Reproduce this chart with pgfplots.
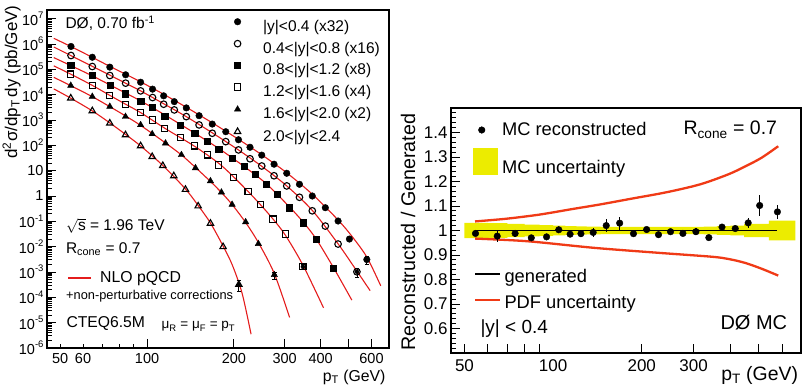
\documentclass[border=0pt]{standalone}
\usepackage{fontspec}
\setmainfont{Liberation Sans}
\usepackage{pgfplots}
\pgfplotsset{compat=1.18}

\definecolor{nlored}{RGB}{228,28,28}
\definecolor{pdfred}{RGB}{240,58,22}
\definecolor{mcyellow}{RGB}{236,236,0}

% ROOT-style powers of ten: sans digits with a raised exponent
\newcommand{\tp}[1]{10\raisebox{0.45em}{\fontsize{9.5}{10}\selectfont #1}}

\begin{document}
\begin{tikzpicture}[x=1pt,y=1pt]
\path[use as bounding box] (0,0) rectangle (802,390);

% ---------------- inclusive jet cross section ----------------
\begin{axis}[
  at={(47pt,42pt)}, anchor=south west, scale only axis,
  width=342pt, height=338pt,
  xmode=log, ymode=log,
  xmin=45, xmax=690, ymin=1e-6, ymax=2.2e7,
  axis line style={line width=1.2pt},
  every tick/.style={black, line width=0.9pt},
  tick align=inside, xtick pos=left, ytick pos=left,
  major tick length=9pt, minor tick length=4.5pt,
  xtick={100,200,300,400,500,600},
  xticklabels={100,200,300,400,,600},
  minor xtick={70,80,90},
  extra x ticks={50,60},
  extra x tick labels={50,60},
  extra x tick style={major tick length=4.5pt},
  ytickten={-6,-5,...,7},
  yticklabels={\tp{-6},\tp{-5},\tp{-4},\tp{-3},\tp{-2},\tp{-1},1,10,\tp{2},\tp{3},\tp{4},\tp{5},\tp{6},\tp{7}},
  /pgf/number format/assume math mode=true,
  ticklabel style={font=\fontsize{14.5}{16}\selectfont},
  xticklabel style={yshift=-1.5pt},
  legend style={at={(0.528,0.975)}, anchor=north west, draw=none, fill=none,
    inner sep=0pt, outer sep=0pt, row sep=5.6pt, column sep=0pt,
    font=\fontsize{15.5}{18}\selectfont,
    nodes={inner sep=0pt, text height=11.5pt, text depth=3.5pt}},
  legend cell align=left,
  legend image code/.code={\path[draw=none,fill=none] (0pt,0pt) rectangle (35.6pt,1pt);
    \draw[mark repeat=2,mark phase=2] plot coordinates {(0pt,5.5pt) (10pt,5.5pt) (20pt,5.5pt)};},
]
% NLO pQCD + non-perturbative corrections
\addplot[nlored, line width=1.1pt, smooth, forget plot] coordinates {
(47.5,1.68e6) (54.7,7.75e5) (64.6,2.98e5) (74.3,1.31e5) (84.5,6.35e4) (95,3.21e4)
(114.3,1.03e4) (137,3.15e3) (168.5,768) (207.8,171) (250.4,41.7) (305.5,8.11)
(374.8,1.15) (459.8,0.112) (514,0.0251) (578,3.88e-3) (646,2.85e-4)};
\addplot[nlored, line width=1.1pt, smooth, forget plot] coordinates {
(47.5,7.61e5) (54.4,3.51e5) (64.6,1.31e5) (74.3,5.90e4) (84.2,2.85e4) (95,1.41e4)
(114.1,4.41e3) (136.7,1.36e3) (168.1,315) (206.9,67.0) (249,15.3) (303.8,2.60)
(373,0.280) (458.7,0.0133) (533.8,1.09e-3) (593.4,1.84e-4)};
\addplot[nlored, line width=1.1pt, smooth, forget plot] coordinates {
(47.5,2.90e5) (54.4,1.41e5) (64.6,5.53e4) (74.3,2.44e4) (84.2,1.16e4) (95,5.69e3)
(115.2,1.59e3) (146.4,301) (177.2,75.4) (216.9,14.7) (258.5,3.12) (312,0.367)
(348.8,0.0897) (386,0.0200) (443,1.49e-3) (512.9,7.75e-5)};
\addplot[nlored, line width=1.1pt, smooth, forget plot] coordinates {
(47.5,1.37e5) (54.4,6.46e4) (64.6,2.33e4) (74.3,9.38e3) (84.2,4.21e3) (95,1.96e3)
(115.2,474) (146.4,90.5) (177.5,19.3) (199.7,5.64) (224,1.51) (247,0.461)
(273.4,0.123) (301.5,0.0287) (347.1,1.87e-3) (409.1,3.85e-5)};
\addplot[nlored, line width=1.1pt, smooth, forget plot] coordinates {
(47.5,4.83e4) (54.4,2.27e4) (64.6,8.34e3) (74.3,3.36e3) (84.2,1.45e3) (95,612)
(115.9,124) (131.6,41.7) (147.2,13.4) (165.9,3.74) (181.1,1.37) (197.2,0.461)
(219.7,0.0897) (243.2,0.0145) (276.2,8.65e-4) (312,1.61e-5)};
\addplot[nlored, line width=1.1pt, smooth, forget plot] coordinates {
(47.5,1.69e4) (54.4,7.27e3) (64.6,2.29e3) (74.3,768) (84.2,270) (95,94.7)
(113.4,16.1) (135.9,1.89) (150.4,0.421) (165.9,0.0857) (183.5,0.0106)
(197.6,1.87e-3) (213.5,1.47e-4) (229.4,3.51e-6)};

% statistical errors of the highest-pT points
\addplot[black, only marks, mark=none, forget plot,
  error bars/.cd, y dir=both, y explicit,
  error bar style={line width=0.8pt}, error mark options={rotate=90, mark size=2.2pt}]
coordinates {
(578,3.1e-3) +- (0,1.1e-3) (534,1.02e-3) +- (0,0.4e-3) (443,1.39e-3) +- (0,0.3e-3)
(347,1.6e-3) +- (0,0.35e-3) (276.2,7.7e-4) +- (0,2.5e-4) (208.1,3.2e-4) +- (0,1.5e-4)};

% measured cross sections
\addplot[black, only marks, mark=*, mark size=3.3pt] coordinates {
(54.5,8.0e5) (64.6,3.0e5) (74.3,1.22e5) (84.3,6.1e4) (95,3.1e4) (104.5,1.65e4)
(114.2,9.0e3) (124.3,5.3e3) (136.8,3.0e3) (151.5,1.48e3) (168.3,690) (187.5,345)
(207.5,166) (227.5,84) (249.8,41) (275.6,18) (305,7.9) (337.6,2.9) (374,1.0)
(415,0.345) (459.5,0.103) (503,0.020) (578,3.1e-3)};
\addlegendentry{|y|<0.4 (x32)}
\addplot[black, only marks, mark=o, mark size=3.3pt, mark options={line width=1.1pt}] coordinates {
(54.5,3.51e5) (64.6,1.29e5) (74.3,5.7e4) (84.3,2.85e4) (95,1.41e4) (104.5,7.7e3)
(114.2,4.2e3) (124.3,2.5e3) (136.8,1.36e3) (151.5,640) (168.3,300) (187.5,140)
(207.5,66) (227.5,29.5) (249.8,15.3) (275.6,6.3) (305,2.5) (337.6,0.89) (374,0.26)
(415,0.065) (459.5,0.0127) (534,1.02e-3)};
\addlegendentry{0.4<|y|<0.8 (x16)}
\addplot[black, only marks, mark=square*, mark size=3.1pt] coordinates {
(54.4,1.41e5) (64.6,5.7e4) (74.3,2.29e4) (84.2,1.10e4) (95,5.7e3) (104.2,3.1e3)
(115.2,1.45e3) (130.6,640) (146.3,300) (161.6,149) (177.2,72) (196.8,30)
(216.9,15) (237.4,7.4) (258.5,3.0) (282.2,1.2) (312,0.345) (348.8,0.088)
(386,0.020) (443,1.39e-3)};
\addlegendentry{0.8<|y|<1.2 (x8)}
\addplot[black, only marks, mark=square, mark size=3.1pt, mark options={line width=1.1pt}] coordinates {
(54.4,6.46e4) (64.6,2.29e4) (74.3,9.2e3) (84.2,4.2e3) (95,1.96e3) (104.2,1.0e3)
(115.2,474) (130.6,201) (146.3,95) (161.6,42) (177.2,16.8) (199.6,5.5)
(224,1.48) (247,0.47) (273.3,0.123) (301.5,0.0315) (347,1.6e-3)};
\addlegendentry{1.2<|y|<1.6 (x4)}
\addplot[black, only marks, mark=triangle*, mark size=3.7pt] coordinates {
(54.4,2.29e4) (64.6,8.4e3) (74.3,3.4e3) (84.2,1.36e3) (95,640) (104.2,282)
(115.9,121) (131.6,42) (147.2,12.8) (165.9,3.9) (181.1,1.4) (197.2,0.46)
(219.7,0.094) (243.2,0.013) (276.2,7.7e-4)};
\addlegendentry{1.6<|y|<2.0 (x2)}
\addplot[black, only marks, mark=triangle, mark size=3.7pt, mark options={line width=1.1pt}] coordinates {
(54.4,7.3e3) (64.6,2.29e3) (74.3,748) (84.2,258) (95,95) (104.2,35.7)
(113.4,15.8) (123.8,6.2) (135.9,1.8) (150.4,0.40) (165.9,0.083) (183.5,9.9e-3)
(208.1,3.2e-4)};
\addlegendentry{2.0<|y|<2.4}
\end{axis}

% ---------------- reconstructed / generated ----------------
\begin{axis}[
  at={(451pt,37pt)}, anchor=south west, scale only axis,
  width=350pt, height=245pt,
  xmode=log, xmin=45, xmax=695, ymin=0.5, ymax=1.5,
  axis line style={line width=1.2pt},
  every tick/.style={black, line width=0.9pt},
  tick align=inside, xtick pos=left, ytick pos=left,
  major tick length=9pt, minor tick length=5pt,
  xtick={50,60,70,80,90,200,300,400,500,600},
  xticklabels={50,,,,,200,300,,,},
  extra x ticks={100}, extra x tick labels={100},
  extra x tick style={major tick length=0pt},
  ytick={0.5,0.6,0.7,0.8,0.9,1,1.1,1.2,1.3,1.4,1.5},
  yticklabels={,0.6,0.7,0.8,0.9,1,1.1,1.2,1.3,1.4,},
  minor y tick num=4,
  /pgf/number format/assume math mode=true,
  ticklabel style={font=\fontsize{17}{19}\selectfont},
  xticklabel style={yshift=-3pt},
  legend style={at={(0.0629,0.9469)}, anchor=north west, draw=none, fill=none,
    inner sep=0pt, outer sep=0pt, row sep=9pt, column sep=4.7pt,
    font=\fontsize{18.3}{21}\selectfont,
    nodes={inner sep=0pt, text height=14pt, text depth=4pt}},
  legend cell align=left,
]
% MC statistical uncertainty, bin by bin
\addplot[fill=mcyellow, draw=none, forget plot] coordinates {
(50,1.031) (60,1.031) (60,1.030) (70,1.030) (70,1.027) (80,1.027) (80,1.024) (90,1.024)
(90,1.022) (100,1.022) (100,1.020) (110,1.020) (110,1.018) (120,1.018) (120,1.017)
(130,1.017) (130,1.016) (145,1.016) (145,1.015) (325,1.015) (325,1.016) (360,1.016)
(360,1.018) (400,1.018) (400,1.020) (445,1.020) (445,1.027) (540,1.027) (540,1.040)
(665,1.040) (665,0.960) (540,0.960) (540,0.973) (445,0.973) (445,0.980) (400,0.980)
(400,0.982) (360,0.982) (360,0.984) (325,0.984) (325,0.985) (145,0.985) (145,0.984)
(130,0.984) (130,0.983) (120,0.983) (120,0.982) (110,0.982) (110,0.980) (100,0.980)
(100,0.978) (90,0.978) (90,0.976) (80,0.976) (80,0.973) (70,0.973) (70,0.970)
(60,0.970) (60,0.969) (50,0.969)} -- cycle;
% generated level
\addplot[black, line width=1.1pt, forget plot] coordinates {(54.5,1) (578,1)};
% PDF uncertainty band edges
\addplot[pdfred, line width=2.3pt, smooth, forget plot] coordinates {
(54.3,1.037) (69.3,1.048) (90,1.065) (116.8,1.088) (143.9,1.106) (186.8,1.131)
(242.6,1.156) (315,1.188) (393.3,1.229) (450,1.262) (510.7,1.297) (581.6,1.344)};
\addplot[pdfred, line width=2.3pt, smooth, forget plot] coordinates {
(54.3,0.967) (82.1,0.956) (138.4,0.929) (233.3,0.908) (345.2,0.893) (393.2,0.884)
(448.2,0.868) (510.6,0.844) (581.6,0.816)};
% reconstructed MC
\addplot[black, only marks, mark=*, mark size=3.3pt,
  error bars/.cd, y dir=both, y explicit, error mark=none,
  error bar style={line width=1.3pt}] coordinates {
(54.5,0.988) +- (0,0.012) (64.6,0.977) +- (0,0.025) (74.3,0.988) +- (0,0.015)
(84.3,0.970) +- (0,0.012) (95,0.974) +- (0,0.010) (104.5,1.003) +- (0,0.010)
(114.2,0.985) +- (0,0.012) (124.3,0.987) +- (0,0.015) (136.8,0.992) +- (0,0.017)
(151.5,1.020) +- (0,0.028) (168.3,1.030) +- (0,0.026) (187.5,0.987) +- (0,0.010)
(207.8,1.004) +- (0,0.010) (228,0.983) +- (0,0.010) (250.5,0.995) +- (0,0.012)
(276,0.988) +- (0,0.012) (305.5,0.995) +- (0,0.015) (338,0.971) +- (0,0.010)
(374.7,1.014) +- (0,0.010) (415.5,1.008) +- (0,0.012) (459.8,1.031) +- (0,0.020)
(503,1.102) +- (0,0.042) (578,1.076) +- (0,0.029)};
\addlegendentry{MC reconstructed}
\addlegendimage{legend image code/.code={\fill[mcyellow] (0pt,-5.7pt) rectangle (24pt,20.3pt);}}
\addlegendentry{MC uncertainty}
\end{axis}

% ---------------- labels and annotations ----------------
\node[rotate=90, font=\fontsize{17}{20}\selectfont] at (11.5,308)
  {d\textsuperscript{2}σ/dp\textsubscript{T}\,dy (pb/GeV)};
\node[anchor=east, font=\fontsize{15.8}{18}\selectfont] at (389,13)
  {p\textsubscript{T} (GeV)};
\node[anchor=base west, font=\fontsize{15.5}{18}\selectfont] at (62,361.5)
  {DØ, 0.70 fb\textsuperscript{-1}};
\node[anchor=base west, font=\fontsize{15.5}{18}\selectfont] at (62.5,159.5)
  {$\sqrt{\mbox{s}}$ = 1.96 TeV};
\node[anchor=base west, font=\fontsize{15.5}{18}\selectfont] at (62.5,136.5)
  {R\textsubscript{cone} = 0.7};
\draw[nlored, line width=1.1pt] (68,112) -- (91,112);
\node[anchor=base west, font=\fontsize{15.8}{18}\selectfont] at (96.7,107.5) {NLO pQCD};
\node[anchor=base west, font=\fontsize{12.8}{15}\selectfont] at (62.7,90)
  {+non-perturbative corrections};
\node[anchor=base west, font=\fontsize{15.7}{18}\selectfont] at (63,62) {CTEQ6.5M};
\node[anchor=base west, font=\fontsize{13.5}{16}\selectfont] at (158,61)
  {μ\textsubscript{R} = μ\textsubscript{F} = p\textsubscript{T}};

\node[rotate=90, font=\fontsize{19.7}{22}\selectfont] at (408,158)
  {Reconstructed / Generated};
\node[anchor=east, font=\fontsize{19.4}{22}\selectfont] at (801.5,15)
  {p\textsubscript{T} (GeV)};
\node[anchor=base west, font=\fontsize{19.5}{22}\selectfont] at (680,255)
  {R\textsubscript{cone} = 0.7};
\draw[black, line width=1.1pt] (475,116) -- (500,116);
\node[anchor=base west, font=\fontsize{18.3}{21}\selectfont] at (501,107.3) {generated};
\draw[pdfred, line width=2.3pt] (475,90) -- (500,90);
\node[anchor=base west, font=\fontsize{18.3}{21}\selectfont] at (501,81.7) {PDF uncertainty};
\node[anchor=base west, font=\fontsize{19}{22}\selectfont] at (477,56.7) {|y| < 0.4};
\node[anchor=base west, font=\fontsize{20}{23}\selectfont] at (717,60) {DØ MC};
\end{tikzpicture}
\end{document}
